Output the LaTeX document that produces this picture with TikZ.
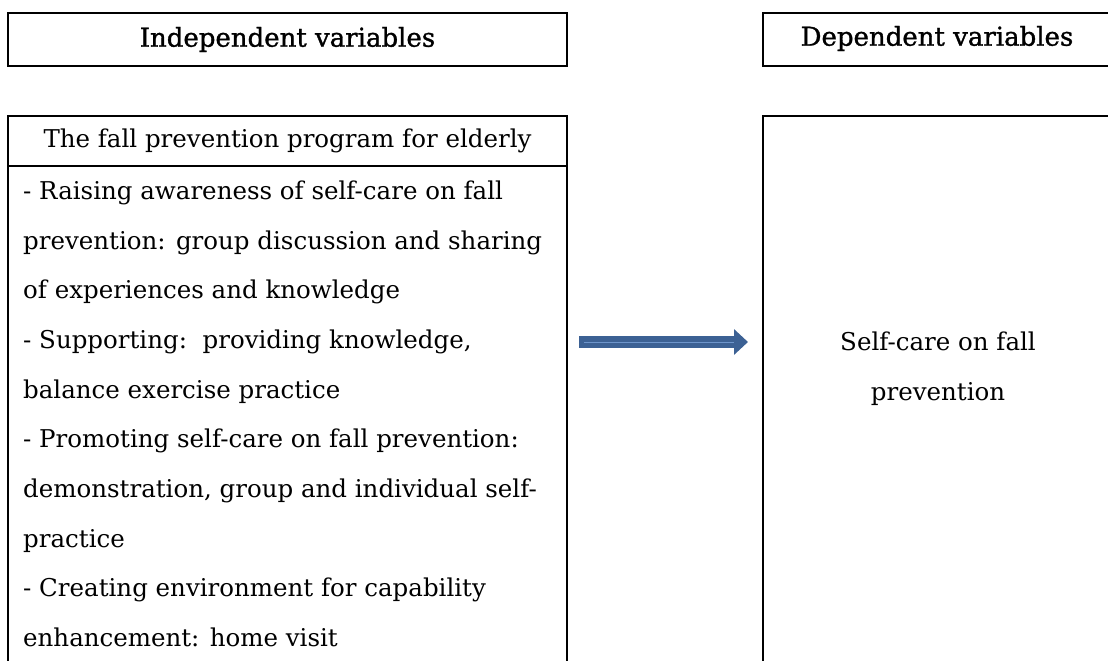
\documentclass[tikz,border=0pt]{standalone}
\usepackage{fontspec}
\setmainfont{DejaVu Serif}
\newfontfamily\headfont[FakeBold=1.2]{DejaVu Serif}
\usetikzlibrary{arrows.meta,positioning}
\definecolor{arrowblue}{HTML}{3C6194}
\definecolor{arrowline}{HTML}{6E95CB}

\tikzset{
  panel/.style={draw, line width=2pt, inner sep=0pt},
  headbox/.style={panel, minimum height=53pt},
  headtext/.style={inner sep=0pt, font=\headfont\fontsize{26}{30}\selectfont},
  bodytext/.style={inner sep=0pt, font=\fontsize{24.5}{49.7}\selectfont},
  bigarrow/.style={line width=12pt, draw=arrowblue, -{Triangle[length=14pt,width=25pt]}}
}

\begin{document}
\begin{tikzpicture}[x=1pt, y=-1pt]
        \useasboundingbox (0,0) rectangle (1108,661);
        \clip (0,0) rectangle (1108,661);
        \node[headbox, minimum width=559pt, anchor=north west] (indhead) at (7,12) {};
        \node[headtext] (indtitle) at (indhead.center) {Independent variables};
        \node[headbox, minimum width=420pt, anchor=north west] (dephead) at (762,12) {};
        \node[headtext] (deptitle) at (937,38.5) {Dependent variables};
        \node[panel, minimum width=559pt, minimum height=50pt, anchor=north west, bodytext] (progtitle) at (7,115) {The fall prevention program for elderly};
        \node[panel, minimum width=559pt, minimum height=540pt, anchor=north west] (progbody) at (7,165) {};
        \node[bodytext, align=left, anchor=north west] (progitems) at (23,180.5) {- Raising awareness of self-care on fall\\
prevention: group discussion and sharing\\
of experiences and knowledge\\
- Supporting:~~providing knowledge,\\
balance exercise practice\\
- Promoting self-care on fall prevention:\\
demonstration, group and individual self-\\
practice\\
- Creating environment for capability\\
enhancement: home visit};
        \node[panel, minimum width=420pt, minimum height=590pt, anchor=north west] (outcome) at (762,115) {};
        \node[bodytext, align=center, anchor=north] (outtext) at (938,331.5) {Self-care on fall\\prevention};
        \coordinate (arrowtail) at (579,342);
        \draw[bigarrow, shorten >=14pt] (arrowtail) -- (arrowtail -| outcome.west);
        \draw[arrowline, line width=1pt] ([xshift=5pt]arrowtail) -- ([xshift=-28pt]arrowtail -| outcome.west);
    \end{tikzpicture}
\end{document}
